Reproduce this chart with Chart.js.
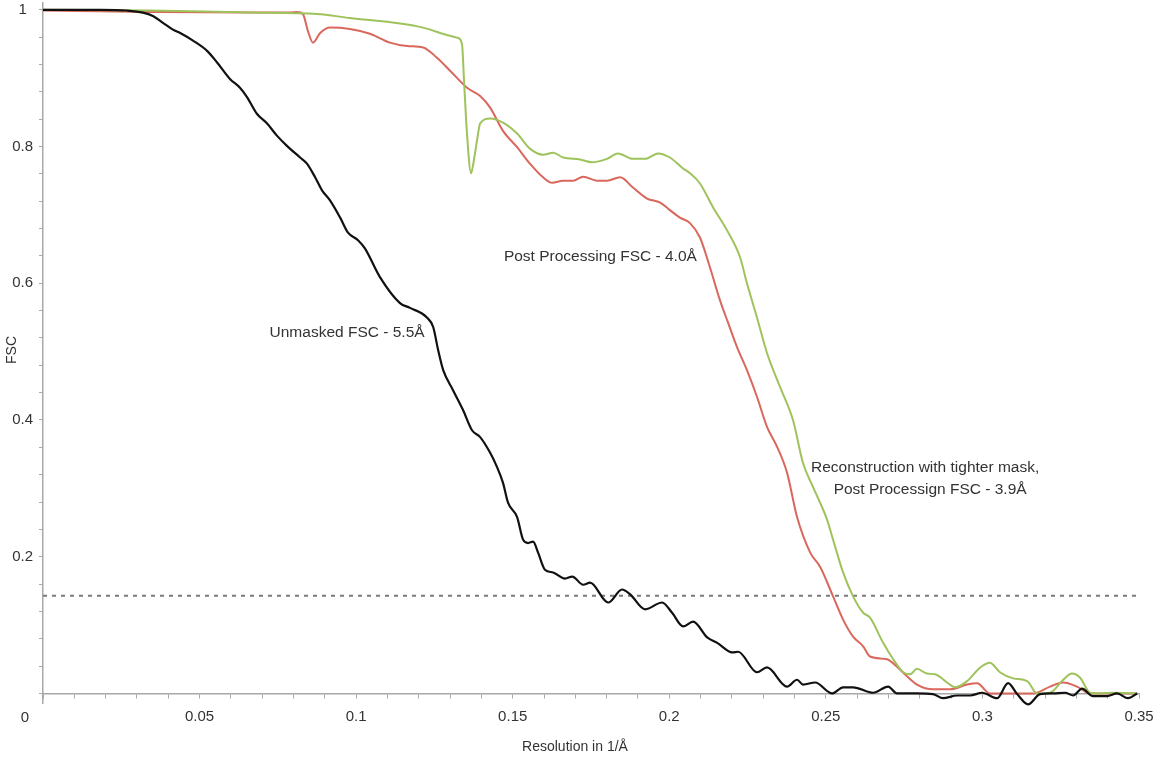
<!DOCTYPE html>
<html>
<head>
<meta charset="utf-8">
<title>FSC curves</title>
<script src="https://cdn.jsdelivr.net/npm/chart.js@4/dist/chart.umd.min.js"></script>
<style>
  html, body { margin: 0; padding: 0; background: #fff; }
  #wrap { width: 1158px; height: 761px; position: relative; }
</style>
</head>
<body>
<div id="wrap"><canvas id="fscChart"></canvas></div>
<script>
// resolution (1/Å) and FSC values
const unmaskedRes = [0, 0.0182, 0.0268, 0.0319, 0.0351, 0.0383, 0.0415, 0.0438, 0.0479, 0.0524, 0.0556, 0.0597, 0.0629, 0.0652, 0.0683, 0.0715, 0.0747, 0.0779, 0.0821, 0.0843, 0.0869, 0.0891, 0.0917, 0.0949, 0.0974, 0.1006, 0.1028, 0.1076, 0.1140, 0.1172, 0.1226, 0.1246, 0.1262, 0.1278, 0.1309, 0.1341, 0.1370, 0.1396, 0.1428, 0.1450, 0.1469, 0.1485, 0.1514, 0.1533, 0.1549, 0.1565, 0.1581, 0.1603, 0.1629, 0.1667, 0.1690, 0.1725, 0.1747, 0.1805, 0.1849, 0.1875, 0.1923, 0.1977, 0.2009, 0.2044, 0.2076, 0.2121, 0.2153, 0.2201, 0.2220, 0.2280, 0.2312, 0.2376, 0.2408, 0.2427, 0.2466, 0.2520, 0.2555, 0.2587, 0.2651, 0.2699, 0.2727, 0.2791, 0.2842, 0.2874, 0.2919, 0.2961, 0.2999, 0.3047, 0.3082, 0.3111, 0.3146, 0.3184, 0.3226, 0.3264, 0.3290, 0.3318, 0.3353, 0.3398, 0.3430, 0.3465, 0.3494];
const unmaskedFsc = [1.0, 1.0, 0.999, 0.996, 0.991, 0.981, 0.971, 0.966, 0.955, 0.940, 0.923, 0.899, 0.886, 0.872, 0.848, 0.834, 0.816, 0.801, 0.784, 0.775, 0.755, 0.736, 0.721, 0.696, 0.674, 0.663, 0.651, 0.609, 0.571, 0.564, 0.550, 0.536, 0.502, 0.473, 0.444, 0.415, 0.385, 0.375, 0.352, 0.331, 0.308, 0.279, 0.258, 0.225, 0.220, 0.222, 0.206, 0.181, 0.177, 0.168, 0.171, 0.159, 0.162, 0.133, 0.152, 0.145, 0.123, 0.133, 0.118, 0.098, 0.105, 0.082, 0.074, 0.060, 0.061, 0.031, 0.038, 0.010, 0.020, 0.013, 0.016, 0.000, 0.009, 0.009, 0.001, 0.010, 0.000, 0.000, -0.001, -0.007, -0.003, -0.003, 0.001, -0.007, 0.015, -0.001, -0.016, -0.001, 0.000, 0.001, -0.003, 0.007, -0.004, -0.004, 0.000, -0.007, 0.000];

const postRes = [0, 0.0342, 0.0661, 0.0789, 0.0811, 0.0830, 0.0846, 0.0862, 0.0885, 0.0917, 0.0980, 0.1044, 0.1108, 0.1163, 0.1214, 0.1258, 0.1300, 0.1354, 0.1396, 0.1428, 0.1469, 0.1514, 0.1555, 0.1597, 0.1626, 0.1661, 0.1693, 0.1725, 0.1769, 0.1801, 0.1843, 0.1884, 0.1929, 0.1971, 0.2002, 0.2034, 0.2066, 0.2098, 0.2130, 0.2162, 0.2188, 0.2216, 0.2248, 0.2280, 0.2312, 0.2344, 0.2376, 0.2408, 0.2450, 0.2482, 0.2523, 0.2555, 0.2587, 0.2619, 0.2641, 0.2695, 0.2727, 0.2759, 0.2791, 0.2842, 0.2897, 0.2951, 0.2983, 0.3024, 0.3162, 0.3216, 0.3258, 0.3302, 0.3344, 0.3494];
const postFsc = [0.999, 0.997, 0.996, 0.996, 0.997, 0.994, 0.969, 0.952, 0.966, 0.974, 0.972, 0.965, 0.952, 0.947, 0.945, 0.930, 0.911, 0.886, 0.874, 0.857, 0.823, 0.799, 0.775, 0.755, 0.747, 0.750, 0.750, 0.756, 0.750, 0.750, 0.755, 0.740, 0.724, 0.718, 0.707, 0.696, 0.688, 0.667, 0.623, 0.575, 0.542, 0.507, 0.473, 0.434, 0.390, 0.361, 0.323, 0.258, 0.206, 0.185, 0.142, 0.108, 0.083, 0.069, 0.054, 0.050, 0.039, 0.025, 0.013, 0.006, 0.006, 0.013, 0.015, 0.000, 0.000, 0.010, 0.016, 0.010, 0.000, 0.000];

const tightRes = [0, 0.0342, 0.0661, 0.0875, 0.0980, 0.1140, 0.1214, 0.1300, 0.1325, 0.1338, 0.1345, 0.1354, 0.1367, 0.1376, 0.1386, 0.1396, 0.1428, 0.1469, 0.1514, 0.1555, 0.1597, 0.1629, 0.1661, 0.1715, 0.1753, 0.1801, 0.1836, 0.1884, 0.1923, 0.1964, 0.2002, 0.2044, 0.2066, 0.2098, 0.2140, 0.2185, 0.2226, 0.2248, 0.2280, 0.2312, 0.2354, 0.2395, 0.2427, 0.2459, 0.2504, 0.2523, 0.2555, 0.2587, 0.2619, 0.2641, 0.2683, 0.2715, 0.2747, 0.2769, 0.2791, 0.2823, 0.2849, 0.2887, 0.2913, 0.2951, 0.2993, 0.3024, 0.3056, 0.3098, 0.3143, 0.3175, 0.3216, 0.3258, 0.3286, 0.3312, 0.3344, 0.3376, 0.3417, 0.3494];
const tightFsc = [1.0, 0.999, 0.996, 0.994, 0.988, 0.980, 0.974, 0.962, 0.959, 0.950, 0.892, 0.819, 0.761, 0.780, 0.809, 0.834, 0.841, 0.835, 0.819, 0.797, 0.788, 0.791, 0.784, 0.781, 0.777, 0.782, 0.790, 0.782, 0.782, 0.790, 0.784, 0.768, 0.761, 0.746, 0.711, 0.677, 0.638, 0.600, 0.550, 0.498, 0.448, 0.400, 0.337, 0.302, 0.254, 0.225, 0.177, 0.142, 0.118, 0.111, 0.074, 0.050, 0.031, 0.028, 0.036, 0.029, 0.028, 0.016, 0.009, 0.018, 0.038, 0.045, 0.031, 0.022, 0.018, 0.000, 0.001, 0.020, 0.029, 0.023, 0.001, 0.000, 0.001, 0.000];

// 0.143 cutoff line
const cutoffRes = [0, 0.35];
const cutoffFsc = [0.143, 0.143];

const xTickValues = [0, 0.05, 0.1, 0.15, 0.2, 0.25, 0.3, 0.35];
const yTickValues = [0.2, 0.4, 0.6, 0.8, 1];

const toPoints = (xs, ys) => xs.map((x, i) => ({ x: x, y: ys[i] }));

const FONT = "'Liberation Sans', Arial, sans-serif";
const TEXT = "#333";
const AXIS = "#a8a8a8";

// text labels on the plot + axis titles
const labelPlugin = {
  id: "labels",
  afterDraw(chart) {
    const ctx = chart.ctx;
    const xs = chart.scales.x, ys = chart.scales.y;
    ctx.save();
    ctx.fillStyle = TEXT;
    ctx.textAlign = "center";
    ctx.textBaseline = "middle";
    ctx.font = "15.5px " + FONT;
    ctx.fillText("Post Processing FSC - 4.0Å", xs.getPixelForValue(0.178), ys.getPixelForValue(0.639));
    ctx.fillText("Unmasked FSC - 5.5Å", xs.getPixelForValue(0.0971), ys.getPixelForValue(0.527));
    ctx.fillText("Reconstruction with tighter mask,", xs.getPixelForValue(0.2817), ys.getPixelForValue(0.330));
    ctx.fillText("Post Processign FSC - 3.9Å", xs.getPixelForValue(0.2833), ys.getPixelForValue(0.298));

    // "0" sits left of the origin
    ctx.font = "15px " + FONT;
    ctx.fillText("0", chart.chartArea.left - 18, ys.getPixelForValue(0) + 24);

    // axis titles
    ctx.font = "14px " + FONT;
    ctx.fillText("Resolution in 1/Å", 575, 747);
    ctx.translate(12, 350);
    ctx.rotate(-Math.PI / 2);
    ctx.fillText("FSC", 0, 0);
    ctx.restore();
  }
};

new Chart(document.getElementById("fscChart"), {
  type: "line",
  data: {
    datasets: [
      { label: "Unmasked FSC - 5.5Å", data: toPoints(unmaskedRes, unmaskedFsc), borderColor: "#111111", borderWidth: 2.2 },
      { label: "Tighter mask FSC - 3.9Å", data: toPoints(tightRes, tightFsc), borderColor: "#9fc35c", borderWidth: 2 },
      { label: "Post Processing FSC - 4.0Å", data: toPoints(postRes, postFsc), borderColor: "#d9675c", borderWidth: 2 },
      { label: "0.143", data: toPoints(cutoffRes, cutoffFsc), borderColor: "#7a7a7a", borderWidth: 2, borderDash: [4, 5], cubicInterpolationMode: "default", tension: 0 }
    ]
  },
  options: {
    responsive: true,
    maintainAspectRatio: false,
    animation: false,
    layout: { padding: { left: 0, right: 19, top: 3, bottom: 58 } },
    elements: {
      point: { radius: 0 },
      line: { cubicInterpolationMode: "monotone", fill: false }
    },
    datasets: { line: { clip: false } },
    plugins: { legend: { display: false }, tooltip: { enabled: false } },
    scales: {
      x: {
        type: "linear",
        min: 0,
        max: 0.35,
        position: { y: 0 },
        afterBuildTicks(scale) {
          const t = [];
          for (let i = 0; i <= 35; i++) t.push({ value: i / 100 });
          scale.ticks = t;
        },
        afterFit(scale) { scale.paddingLeft = 0; scale.paddingRight = 0; },
        border: { display: true, color: AXIS, width: 1.5 },
        grid: { drawOnChartArea: false, drawTicks: true, tickLength: 4, color: AXIS, tickColor: AXIS },
        ticks: {
          autoSkip: false,
          maxRotation: 0,
          padding: 10,
          color: TEXT,
          font: { family: FONT, size: 15 },
          callback(v) {
            const hit = xTickValues.find(t => Math.abs(t - v) < 1e-6);
            return hit !== undefined && hit !== 0 ? String(hit) : "";
          }
        }
      },
      y: {
        type: "linear",
        min: -0.014,
        max: 1.01,
        afterBuildTicks(scale) {
          const t = [];
          for (let i = 0; i <= 25; i++) t.push({ value: i * 0.04 });
          scale.ticks = t;
        },
        afterFit(scale) { scale.width = 43; scale.paddingTop = 0; scale.paddingBottom = 0; },
        border: { display: true, color: AXIS, width: 1.5 },
        grid: { drawOnChartArea: false, drawTicks: true, tickLength: 4, color: AXIS, tickColor: AXIS },
        ticks: {
          autoSkip: false,
          padding: 6,
          crossAlign: "center",
          color: TEXT,
          font: { family: FONT, size: 15 },
          callback(v) {
            const hit = yTickValues.find(t => Math.abs(t - v) < 1e-6);
            return hit !== undefined ? String(hit) : "";
          }
        }
      }
    }
  },
  plugins: [labelPlugin]
});
</script>
</body>
</html>
